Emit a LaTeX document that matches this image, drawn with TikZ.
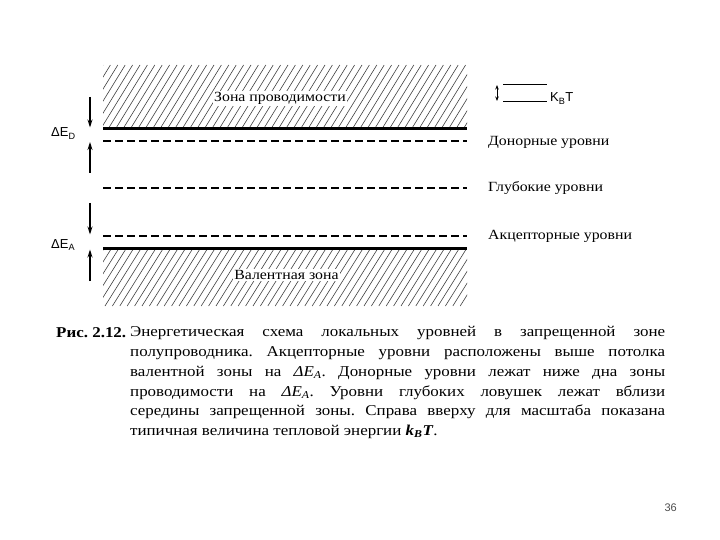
\documentclass[tikz,border=0pt]{standalone}
\usepackage{fontspec}
\setmainfont{Liberation Serif}
\setsansfont{Liberation Sans}
\newfontfamily\wideserif[FakeStretch=1.13]{Liberation Serif}
\usetikzlibrary{arrows.meta}
\begin{document}
\frenchspacing
\begin{tikzpicture}[x=1pt,y=-1pt,
  hatch/.style={line width=0.6pt,black!75},
  bandline/.style={line width=2.2pt},
  levelline/.style={line width=1.7pt,dash pattern=on 8pt off 4pt},
  dimarrow/.style={line width=1.1pt,-{Stealth[length=8pt,width=5pt]}},
  bandlabel/.style={fill=white,inner sep=1.5pt,font=\wideserif\fontsize{14}{16}\selectfont},
  levellabel/.style={anchor=base west,inner sep=0pt,font=\wideserif\fontsize{14}{16}\selectfont},
  dlabel/.style={anchor=base west,inner sep=0pt,font=\sffamily\fontsize{13}{15}\selectfont}]
\useasboundingbox (0,0) rectangle (720,540);
% conduction band hatching
\begin{scope}
\clip (103,65) rectangle (467,128.5);
\foreach \i in {0,...,58} \draw[hatch] ({64+\i*7.4},128.5) -- ++(39,-63.5);
\end{scope}
% valence band hatching
\begin{scope}
\clip (103,248.5) rectangle (467,306);
\foreach \i in {0,...,58} \draw[hatch] ({68+\i*7.4},306) -- ++(36,-57.5);
\end{scope}
% band edges and levels
\coordinate (cL) at (103,128.5); \coordinate (cR) at (467,128.5);
\coordinate (dL) at (103,141);   \coordinate (dR) at (467,141);
\coordinate (gL) at (103,188);   \coordinate (gR) at (467,188);
\coordinate (aL) at (103,236);   \coordinate (aR) at (467,236);
\coordinate (vL) at (103,248.5); \coordinate (vR) at (467,248.5);
\draw[bandline] (cL) -- (cR);
\draw[levelline] (dL) -- (dR);
\draw[levelline] (gL) -- (gR);
\draw[levelline] (aL) -- (aR);
\draw[bandline] (vL) -- (vR);
\node[bandlabel] (cb) at (280,98.5) {Зона проводимости};
\node[bandlabel] (vb) at (286.5,275) {Валентная зона};
% dimension arrows
\coordinate (d1s) at (90,97);  \coordinate (d1e) at (90,127.5);
\coordinate (d2s) at (90,173); \coordinate (d2e) at (90,142);
\coordinate (a1s) at (90,203); \coordinate (a1e) at (90,234.5);
\coordinate (a2s) at (90,281); \coordinate (a2e) at (90,249.5);
\draw[dimarrow] (d1s) -- (d1e);
\draw[dimarrow] (d2s) -- (d2e);
\draw[dimarrow] (a1s) -- (a1e);
\draw[dimarrow] (a2s) -- (a2e);
\node[dlabel] (ed) at (51,137) {ΔE\textsubscript{D}};
\node[dlabel] (ea) at (51,248.3) {ΔE\textsubscript{A}};
% kT scale
\coordinate (k1L) at (503,84);    \coordinate (k1R) at (547,84);
\coordinate (k2L) at (503,101.5); \coordinate (k2R) at (547,101.5);
\draw[line width=0.9pt] (k1L) -- (k1R);
\draw[line width=1.4pt] (k2L) -- (k2R);
\coordinate (kas) at (497,85); \coordinate (kae) at (497,101);
\draw[line width=0.9pt,{Stealth[length=4.5pt,width=3.5pt]}-{Stealth[length=4.5pt,width=3.5pt]}] (kas) -- (kae);
\node[dlabel] (kt) at (550,102) {K\textsubscript{B}T};
% level labels
\node[levellabel] (ld) at (488,146) {Донорные уровни};
\node[levellabel] (lg) at (488,191.5) {Глубокие уровни};
\node[levellabel] (la) at (488,240) {Акцепторные уровни};
% caption
\node[anchor=base west,inner sep=0pt,font=\wideserif\bfseries\fontsize{15}{19.7}\selectfont] (fig) at (56,337) {Рис. 2.12.};
\node[anchor=north west,inner sep=0pt,text width=535pt,align=justify,
      font=\wideserif\fontsize{15}{19.7}\selectfont] (cap) at (130,326.5)
{Энергетическая схема локальных уровней в запрещенной зоне\linebreak
полупроводника. Акцепторные уровни расположены выше потолка\linebreak
валентной зоны на \textit{ΔE}\textsubscript{\textit{A}}. Донорные уровни лежат ниже дна зоны\linebreak
проводимости на \textit{ΔE}\textsubscript{\textit{A}}. Уровни глубоких ловушек лежат вблизи\linebreak
середины запрещенной зоны. Справа вверху для масштаба показана\linebreak
типичная величина тепловой энергии \textbf{\textit{k}\textsubscript{\textit{B}}\textit{T}}.};
\node[anchor=base east,inner sep=0pt,text=black!70,font=\sffamily\fontsize{11}{13}\selectfont] (pg) at (677,511) {36};
\end{tikzpicture}
\end{document}
